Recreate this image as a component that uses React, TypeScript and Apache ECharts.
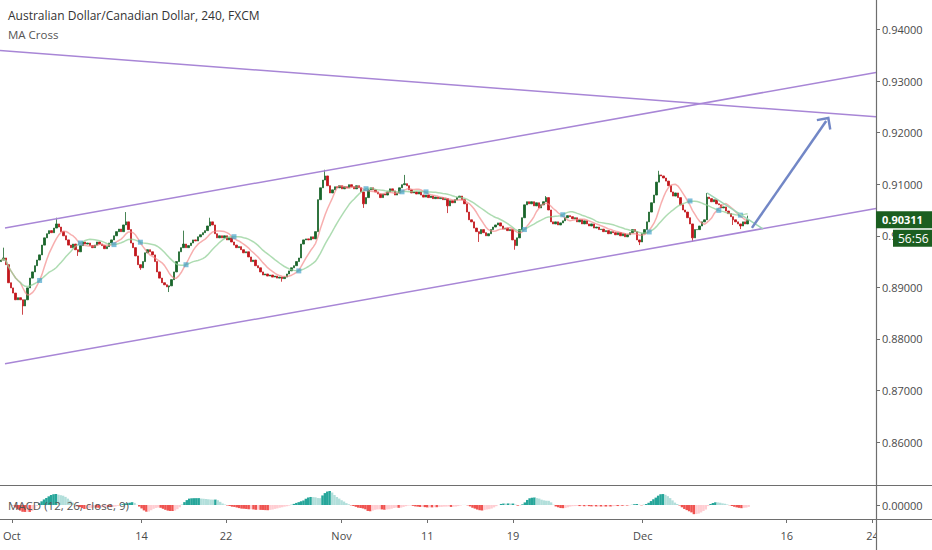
import React, { useEffect, useRef } from 'react';
import * as echarts from 'echarts';

// ---- Data (AUD/CAD 4h closes) ----
const closes: number[] = [
  0.8953, 0.8957, 0.8944, 0.8909, 0.8899, 0.8889, 0.8876, 0.8880, 0.8876, 0.8864,
  0.8876, 0.8899, 0.8918, 0.8930, 0.8942, 0.8953, 0.8963, 0.8982, 0.8996, 0.9004,
  0.9010, 0.9006, 0.9015, 0.9023, 0.9017, 0.9008, 0.9000, 0.8992, 0.8982, 0.8977,
  0.8984, 0.8973, 0.8969, 0.8981, 0.8988, 0.8984, 0.8986, 0.8981, 0.8977, 0.8982,
  0.8988, 0.8984, 0.8981, 0.8975, 0.8979, 0.8986, 0.8992, 0.9000, 0.9008, 0.9013,
  0.9008, 0.9021, 0.9027, 0.9012, 0.8986, 0.8977, 0.8961, 0.8944, 0.8938, 0.8950,
  0.8967, 0.8973, 0.8969, 0.8963, 0.8950, 0.8930, 0.8918, 0.8909, 0.8905, 0.8901,
  0.8903, 0.8915, 0.8930, 0.8950, 0.8969, 0.8977, 0.8984, 0.8977, 0.8981, 0.8986,
  0.8992, 0.8990, 0.8998, 0.9002, 0.9006, 0.9010, 0.9019, 0.9027, 0.9021, 0.9004,
  0.8996, 0.9000, 0.8996, 0.9000, 0.8992, 0.8996, 0.8988, 0.8982, 0.8977, 0.8979,
  0.8973, 0.8967, 0.8969, 0.8959, 0.8950, 0.8953, 0.8942, 0.8938, 0.8930, 0.8924,
  0.8926, 0.8922, 0.8924, 0.8920, 0.8922, 0.8918, 0.8920, 0.8917, 0.8920, 0.8926,
  0.8932, 0.8938, 0.8942, 0.8950, 0.8957, 0.8984, 0.8992, 0.8994, 0.8992, 0.8998,
  0.8994, 0.9008, 0.9070, 0.9093, 0.9108, 0.9116, 0.9097, 0.9083, 0.9089, 0.9095,
  0.9093, 0.9097, 0.9091, 0.9095, 0.9093, 0.9099, 0.9095, 0.9091, 0.9097, 0.9093,
  0.9085, 0.9062, 0.9074, 0.9089, 0.9093, 0.9089, 0.9085, 0.9081, 0.9074, 0.9081,
  0.9079, 0.9085, 0.9091, 0.9087, 0.9079, 0.9083, 0.9093, 0.9099, 0.9101, 0.9097,
  0.9089, 0.9083, 0.9085, 0.9081, 0.9085, 0.9079, 0.9075, 0.9079, 0.9074, 0.9077,
  0.9072, 0.9075, 0.9072, 0.9074, 0.9070, 0.9072, 0.9058, 0.9068, 0.9064, 0.9070,
  0.9074, 0.9077, 0.9070, 0.9062, 0.9046, 0.9031, 0.9027, 0.9015, 0.9008, 0.9004,
  0.9012, 0.9006, 0.9000, 0.9004, 0.9012, 0.9017, 0.9021, 0.9025, 0.9019, 0.9013,
  0.9015, 0.9010, 0.9012, 0.8992, 0.8981, 0.8996, 0.9012, 0.9035, 0.9060, 0.9066,
  0.9062, 0.9066, 0.9058, 0.9064, 0.9054, 0.9060, 0.9066, 0.9074, 0.9050, 0.9027,
  0.9023, 0.9027, 0.9021, 0.9025, 0.9029, 0.9035, 0.9039, 0.9037, 0.9033, 0.9035,
  0.9027, 0.9031, 0.9023, 0.9029, 0.9023, 0.9019, 0.9023, 0.9015, 0.9017, 0.9012,
  0.9013, 0.9008, 0.9010, 0.9004, 0.9008, 0.9006, 0.9002, 0.9006, 0.9000, 0.9004,
  0.8998, 0.9002, 0.9006, 0.9012, 0.9008, 0.8992, 0.8988, 0.9004, 0.9012, 0.9027,
  0.9046, 0.9064, 0.9079, 0.9104, 0.9118, 0.9116, 0.9112, 0.9106, 0.9097, 0.9085,
  0.9077, 0.9083, 0.9074, 0.9060, 0.9050, 0.9046, 0.9035, 0.9023, 0.8996, 0.9012,
  0.9012, 0.9019, 0.9027, 0.9031, 0.9075, 0.9072, 0.9066, 0.9070, 0.9062, 0.9060,
  0.9054, 0.9056, 0.9048, 0.9043, 0.9037, 0.9031, 0.9027, 0.9023, 0.9019, 0.9027,
  0.9023, 0.90311,
];
const firstOpen = 0.8950;
// [bar index, high, low] for the visible long wicks
const wicks: [number, number | null, number | null][] = [
  [1, 0.8977, null], [9, null, 0.8847], [23, 0.9035, null], [32, null, 0.8961],
  [52, 0.9046, null], [58, null, 0.8934], [70, null, 0.8891], [76, 0.9010, null],
  [87, 0.9035, null], [117, null, 0.8911], [135, 0.9128, null], [151, null, 0.9054],
  [168, 0.9118, null], [186, null, 0.9044], [199, null, 0.8988], [214, null, 0.8973],
  [227, 0.9077, null], [266, null, 0.8982], [274, 0.9126, null], [288, null, 0.8988],
  [294, 0.9083, null], [305, null, 0.9021], [308, null, 0.9013], [311, 0.9039, null],
];

const xTickIndex = [1.5, 56, 91.5, 140, 176, 212, 266.5, 327, 363];
const xTickLabels = ['Oct', '14', '22', 'Nov', '11', '19', 'Dec', '16', '24'];
const priceTicks = [0.86, 0.87, 0.88, 0.89, 0.9, 0.91, 0.92, 0.93, 0.94];
const macdTicks = [0];
const xRange = [-0.5, 364.5];
const priceRange = [0.8517, 0.9457];

const channelLines = [
  { from: [-0.5, 0.93591], to: [364.5, 0.92305] },
  { from: [1.58, 0.90153], to: [364.5, 0.93167] },
  { from: [1.58, 0.87518], to: [364.5, 0.90531] },
];
const greenLine = { from: [294.1, 0.90832], to: [317.4, 0.90134] };
const arrowLine = { from: [312.8, 0.90153], to: [343.75, 0.92225] };

const titleText = 'Australian Dollar/Canadian Dollar, 240, FXCM';
const indicatorText = 'MA Cross';
const macdText = 'MACD (12, 26, close, 9)';
const countdownText = '56:56';

const FONT = "'Open Sans', 'Liberation Sans', sans-serif";

function sma(src: number[], n: number) {
  return src.map((_, i) => {
    const s = Math.max(0, i - n + 1);
    let sum = 0;
    for (let k = s; k <= i; k++) sum += src[k];
    return sum / (i - s + 1);
  });
}
function ema(src: number[], n: number) {
  const a = 2 / (n + 1);
  const out: number[] = [];
  src.forEach((v, i) => out.push(i === 0 ? v : a * v + (1 - a) * out[i - 1]));
  return out;
}

export default function App() {
  const ref = useRef<HTMLDivElement>(null);
  useEffect(() => {
    if (!ref.current) return;
    const chart = echarts.init(ref.current, null, { renderer: 'svg' });

    const candles = closes.map((c, i) => {
      const o = i === 0 ? firstOpen : closes[i - 1];
      return [i, o, c, Math.min(o, c), Math.max(o, c)];
    });
    wicks.forEach(([i, h, l]) => {
      if (h != null) candles[i][4] = h;
      if (l != null) candles[i][3] = l;
    });

    const maShort = sma(closes, 9);
    const maLong = sma(closes, 21);
    const crosses: number[][] = [];
    for (let i = 2; i < closes.length; i++) {
      const d0 = maShort[i - 1] - maLong[i - 1];
      const d1 = maShort[i] - maLong[i];
      if (d0 * d1 < 0) crosses.push([i, maLong[i]]);
    }

    const e12 = ema(closes, 12);
    const e26 = ema(closes, 26);
    const macd = e12.map((v, i) => v - e26[i]);
    const signal = ema(macd, 9);
    const hist = macd.map((v, i) => v - signal[i]);
    const histData = hist.map((h, i) => {
      const prev = i > 0 ? hist[i - 1] : 0;
      let color;
      if (h >= 0) color = h > prev ? '#26a69a' : '#b2dfdb';
      else color = h < prev ? '#ef5350' : '#ffcdd2';
      return { value: [i, h], itemStyle: { color } };
    });
    const maxPos = Math.max(...hist);
    const macdMax = (maxPos * 19) / 14;
    const macdMin = -maxPos;

    const purple = '#a886d6';
    const mlData: any[] = channelLines.map((l) => [
      { coord: l.from, lineStyle: { color: purple, width: 1.5, type: 'solid' } },
      { coord: l.to },
    ]);
    mlData.push([
      { coord: greenLine.from, lineStyle: { color: '#9dd6b6', width: 1.5, type: 'solid' } },
      { coord: greenLine.to },
    ]);
    mlData.push([
      { coord: arrowLine.from, symbol: 'none', lineStyle: { color: '#7287c6', width: 2.5, type: 'solid' } },
      {
        coord: arrowLine.to,
        symbol: 'path://M0,0 L9,9 L7.3,10.7 L0,3.5 L-7.3,10.7 L-9,9 Z',
        symbolSize: [18, 11],
        itemStyle: { color: '#7287c6' },
      },
    ]);

    const labelStyle = { fontSize: 11, color: '#4a4a4a', fontFamily: FONT };

    const option: any = {
      animation: false,
      backgroundColor: '#ffffff',
      grid: [
        { left: 0, top: 0, width: 876, height: 485 },
        { left: 0, top: 486, width: 876, height: 33 },
      ],
      xAxis: [
        { type: 'value', gridIndex: 0, min: xRange[0], max: xRange[1], show: false },
        {
          type: 'value', gridIndex: 1, min: xRange[0], max: xRange[1],
          axisLine: { show: false, onZero: false },
          splitLine: { show: false },
          axisTick: { show: true, customValues: xTickIndex, length: 4, lineStyle: { color: '#6e6e6e' } },
          axisLabel: {
            ...labelStyle, margin: 11, customValues: xTickIndex,
            formatter: (v: number) => {
              const k = xTickIndex.findIndex((t) => Math.abs(t - v) < 1e-6);
              return k >= 0 ? xTickLabels[k] : '';
            },
          },
        },
      ],
      yAxis: [
        {
          type: 'value', gridIndex: 0, position: 'right', min: priceRange[0], max: priceRange[1],
          splitLine: { show: false },
          axisLine: { show: false, onZero: false },
          axisTick: { show: true, customValues: priceTicks, length: 4, lineStyle: { color: '#6e6e6e' } },
          axisLabel: { ...labelStyle, margin: 6, customValues: priceTicks, formatter: (v: number) => v.toFixed(5) },
        },
        {
          type: 'value', gridIndex: 1, position: 'right', min: macdMin, max: macdMax,
          splitLine: { show: false },
          axisLine: { show: false, onZero: false },
          axisTick: { show: true, customValues: macdTicks, length: 4, lineStyle: { color: '#6e6e6e' } },
          axisLabel: { ...labelStyle, margin: 6, customValues: macdTicks, formatter: (v: number) => Math.abs(v).toFixed(5) },
        },
      ],
      series: [
        {
          type: 'candlestick', xAxisIndex: 0, yAxisIndex: 0, data: candles,
          barWidth: 1.9,
          itemStyle: { color: '#19652a', color0: '#c2161c', borderColor: '#19652a', borderColor0: '#c2161c', borderWidth: 0.8 },
          silent: true,
          markLine: { silent: true, symbol: 'none', label: { show: false }, animation: false, data: mlData },
        },
        {
          type: 'line', xAxisIndex: 0, yAxisIndex: 0, data: maShort.map((v, i) => [i, v]),
          showSymbol: false, silent: true, z: 3,
          lineStyle: { color: 'rgba(242,130,130,0.65)', width: 1.5 },
        },
        {
          type: 'line', xAxisIndex: 0, yAxisIndex: 0, data: maLong.map((v, i) => [i, v]),
          showSymbol: false, silent: true, z: 3,
          lineStyle: { color: 'rgba(140,205,145,0.7)', width: 1.5 },
        },
        {
          type: 'scatter', xAxisIndex: 0, yAxisIndex: 0, data: crosses,
          symbol: 'rect', symbolSize: 5, silent: true, z: 4,
          itemStyle: { color: 'rgba(66,160,200,0.85)' },
        },
        {
          type: 'bar', xAxisIndex: 1, yAxisIndex: 1, data: histData,
          barWidth: 2.5, silent: true,
        },
      ],
    };
    chart.setOption(option);

    const lastClose = closes[closes.length - 1];
    const py = chart.convertToPixel({ yAxisIndex: 0 }, lastClose) as number;
    const gray = '#6e6e6e';
    chart.setOption({
      graphic: [
        { type: 'rect', z: 50, shape: { x: 877, y: 521, width: 55, height: 29 }, style: { fill: '#ffffff' } },
        { type: 'line', z: 60, shape: { x1: 0, y1: 485.5, x2: 932, y2: 485.5 }, style: { stroke: gray, lineWidth: 1.2 } },
        { type: 'line', z: 60, shape: { x1: 0, y1: 519.5, x2: 932, y2: 519.5 }, style: { stroke: gray, lineWidth: 1.2 } },
        { type: 'line', z: 60, shape: { x1: 876.5, y1: 0, x2: 876.5, y2: 550 }, style: { stroke: gray, lineWidth: 1.2 } },
        { type: 'text', z: 60, x: 8, y: 9, style: { text: titleText, fontSize: 12, fontFamily: FONT, fill: '#333333' } },
        { type: 'text', z: 60, x: 8, y: 28, style: { text: indicatorText, fontSize: 11.5, fontFamily: FONT, fill: '#555555' } },
        { type: 'text', z: 60, x: 8, y: 505, style: { text: macdText, fontSize: 11.5, fontFamily: FONT, fill: '#555555', verticalAlign: 'middle' } },
        { type: 'rect', z: 70, shape: { x: 876, y: py - 8.5, width: 56, height: 17 }, style: { fill: '#1b5e20' } },
        { type: 'text', z: 71, x: 882, y: py, style: { text: lastClose.toFixed(5), fontSize: 11, fontWeight: 'bold', fontFamily: FONT, fill: '#ffffff', verticalAlign: 'middle' } },
        { type: 'rect', z: 70, shape: { x: 893, y: py + 10, width: 39, height: 17 }, style: { fill: '#1b5e20' } },
        { type: 'text', z: 71, x: 898, y: py + 18.5, style: { text: countdownText, fontSize: 12, fontFamily: FONT, fill: '#ffffff', verticalAlign: 'middle' } },
      ],
    });

    return () => chart.dispose();
  }, []);
  return <div ref={ref} style={{ position: 'absolute', left: 0, top: 0, width: 932, height: 550 }} />;
}
